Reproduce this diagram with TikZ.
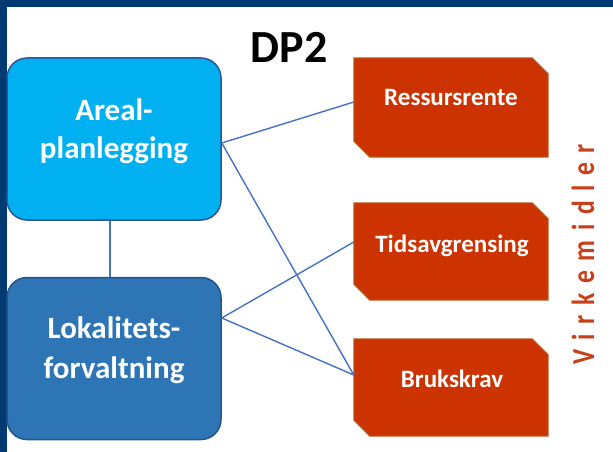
\documentclass[tikz,border=0pt]{standalone}
\usepackage{fontspec}
\setmainfont{Carlito}
\definecolor{frameblue}{HTML}{003A70}
\definecolor{arealfill}{HTML}{00B0F0}
\definecolor{arealedge}{HTML}{2F5597}
\definecolor{lokfill}{HTML}{2E75B6}
\definecolor{lokedge}{HTML}{24558A}
\definecolor{redfill}{HTML}{CC3300}
\definecolor{rededge}{HTML}{B0652A}
\definecolor{connblue}{HTML}{4472C4}
\definecolor{virkred}{HTML}{C8401A}
\newcommand{\vks}{\kern 12pt}
\newcommand{\chamferbox}[1]{%
  \filldraw[redshape] (#1.north west) -- ([xshift=-16pt]#1.north east)
    -- ([yshift=-16pt]#1.north east) -- (#1.south east)
    -- ([xshift=16pt]#1.south west) -- ([yshift=16pt]#1.south west) -- cycle;}
\begin{document}
\begin{tikzpicture}[x=1pt,y=-1pt,
  bigbox/.style={rectangle, rounded corners=20pt, line width=1.5pt,
    minimum width=214pt, minimum height=162pt, inner sep=0pt},
  redbox/.style={rectangle, minimum width=194pt, minimum height=97pt, inner sep=0pt},
  redshape/.style={fill=redfill, draw=rededge, line width=1pt},
  bigtext/.style={anchor=base, text=white, font=\bfseries\fontsize{31}{36}\selectfont, inner sep=0pt},
  redtext/.style={anchor=base, text=white, font=\bfseries\fontsize{25}{30}\selectfont, inner sep=0pt},
  conn/.style={draw=connblue, line width=1.4pt}]
\useasboundingbox (0,0) rectangle (613,452);
% frame
\fill[frameblue] (0,0) rectangle (613,7.5);
\fill[frameblue] (0,0) rectangle (7,452);
% title
\node[anchor=base, font=\bfseries\fontsize{46}{50}\selectfont, inner sep=0pt] (title) at (289,63) {DP2};
% left boxes
\node[bigbox, fill=arealfill, draw=arealedge] (areal) at (114,139) {};
\node[bigbox, fill=lokfill, draw=lokedge] (lok) at (114,358.5) {};
\node[bigtext] (arealA) at (114,120) {Areal-};
\node[bigtext] (arealB) at (114,158) {planlegging};
\node[bigtext] (lokA) at (114,338) {Lokalitets-};
\node[bigtext] (lokB) at (114,378) {forvaltning};
% right boxes
\node[redbox, minimum height=99pt] (ress) at (451,107.5) {};
\node[redbox] (tids) at (451,251.5) {};
\node[redbox] (bruk) at (451,387.5) {};
\chamferbox{ress}
\chamferbox{tids}
\chamferbox{bruk}
\node[redtext] (ressT) at (451,106) {Ressursrente};
\node[redtext] (tidsT) at (452,252) {Tidsavgrensing};
\node[redtext] (brukT) at (452,387) {Brukskrav};
% connectors
\draw[conn] ([xshift=-4pt]areal.south) -- ([xshift=-4pt]lok.north);
\draw[conn] ([yshift=-4pt]areal.east) -- ([yshift=5.5pt]ress.west);
\draw[conn] ([yshift=-4pt]areal.east) -- ([yshift=12.5pt]bruk.west);
\draw[conn] ([yshift=40.5pt]lok.east) -- ([yshift=9.5pt]tids.west);
\draw[conn] ([yshift=40.5pt]lok.east) -- ([yshift=12.5pt]bruk.west);
% side label
\node[anchor=base west, rotate=90, xscale=0.8, inner sep=0pt, text=virkred,
  font=\bfseries\fontsize{32}{34}\selectfont] (virk) at (594,365)
  {V\vks i\vks r\vks k\vks e\vks m\vks i\vks d\vks l\vks e\vks r};
\end{tikzpicture}
\end{document}
